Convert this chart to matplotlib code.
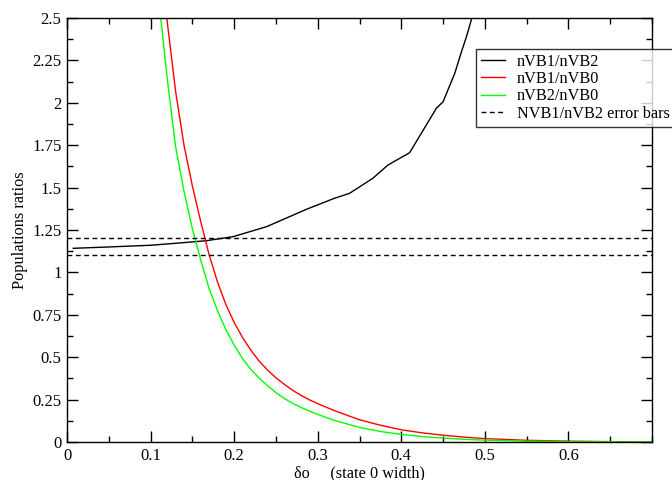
import matplotlib
matplotlib.use("Agg")
import matplotlib.pyplot as plt
from matplotlib.ticker import MultipleLocator, FixedLocator

# nVB1/nVB2
x_12 = [0.0075, 0.05, 0.10, 0.131, 0.167, 0.199, 0.239, 0.2865, 0.320, 0.338,
        0.366, 0.384, 0.410, 0.442, 0.450, 0.464, 0.472, 0.478, 0.484, 0.490]
y_12 = [1.142, 1.150, 1.160, 1.172, 1.187, 1.211, 1.270, 1.372, 1.437, 1.466,
        1.555, 1.633, 1.706, 1.968, 2.006, 2.174, 2.301, 2.390, 2.492, 2.600]

# nVB1/nVB0
x_10 = [0.112, 0.1194, 0.13, 0.14, 0.15, 0.16, 0.17, 0.18, 0.19, 0.20,
        0.21, 0.22, 0.23, 0.24, 0.25, 0.26, 0.27, 0.28, 0.29, 0.30,
        0.32, 0.35, 0.375, 0.40, 0.425, 0.45, 0.475, 0.50, 0.55, 0.60,
        0.65, 0.70]
y_10 = [2.90, 2.50, 2.065, 1.75, 1.51, 1.30, 1.105, 0.945, 0.812, 0.705,
        0.617, 0.541, 0.477, 0.424, 0.379, 0.340, 0.305, 0.275, 0.249, 0.226,
        0.185, 0.131, 0.099, 0.072, 0.054, 0.040, 0.029, 0.020, 0.010, 0.005,
        0.002, 0.001]

# nVB2/nVB0
x_20 = [0.105, 0.1122, 0.12, 0.13, 0.14, 0.15, 0.16, 0.17, 0.18, 0.19,
        0.20, 0.21, 0.22, 0.23, 0.24, 0.25, 0.26, 0.27, 0.28, 0.29,
        0.30, 0.32, 0.35, 0.375, 0.40, 0.425, 0.45, 0.475, 0.50, 0.55,
        0.60, 0.65, 0.70]
y_20 = [2.95, 2.50, 2.14, 1.74, 1.478, 1.258, 1.073, 0.905, 0.775, 0.663,
        0.572, 0.492, 0.428, 0.376, 0.332, 0.291, 0.257, 0.228, 0.204, 0.182,
        0.163, 0.127, 0.086, 0.062, 0.045, 0.032, 0.023, 0.016, 0.011, 0.005,
        0.002, 0.001, 0.0]

# error bars on nVB1/nVB2
err_levels = [1.2, 1.1]

xticks = [0, 0.1, 0.2, 0.3, 0.4, 0.5, 0.6]
yticks = [0, 0.25, 0.5, 0.75, 1, 1.25, 1.5, 1.75, 2, 2.25, 2.5]

plt.rcParams['font.family'] = ['Liberation Serif', 'DejaVu Serif']
plt.rcParams['font.size'] = 11.7

fig = plt.figure(figsize=(6.72, 4.8), dpi=100)
ax = fig.add_axes([67 / 672, 1 - 442 / 480, (652 - 67) / 672, (442 - 18) / 480])

ax.plot(x_12, y_12, color='black', lw=1.0, label='nVB1/nVB2')
ax.plot(x_10, y_10, color='#ff0000', lw=1.0, label='nVB1/nVB0')
ax.plot(x_20, y_20, color='#00ff00', lw=1.0, label='nVB2/nVB0')
for i, lev in enumerate(err_levels):
    ax.axhline(lev, color='black', lw=1.0, ls=(0, (3.5, 2.5)),
               label='NVB1/nVB2 error bars' if i == 0 else None)

ax.set_xlim(0, 0.7)
ax.set_ylim(0, 2.5)
ax.xaxis.set_major_locator(FixedLocator(xticks))
ax.set_xticklabels([f"{t:g}" for t in xticks])
ax.xaxis.set_minor_locator(MultipleLocator(0.05))
ax.yaxis.set_major_locator(FixedLocator(yticks))
ax.set_yticklabels([f"{t:g}" for t in yticks])
ax.yaxis.set_minor_locator(MultipleLocator(0.125))
ax.tick_params(which='both', direction='in', top=True, right=True, width=1.0,
               labelsize=12)
ax.tick_params(which='major', length=8, pad=4)
ax.tick_params(which='minor', length=4.5)
for s in ax.spines.values():
    s.set_linewidth(1.0)

ax.set_xlabel(u"\u03b4o     (state 0 width)", labelpad=1)
ax.set_ylabel("Populations ratios", labelpad=3)

leg = fig.legend(loc='upper left', bbox_to_anchor=(476 / 672, 1 - 49 / 480),
                 frameon=True, fancybox=False, edgecolor='black',
                 handlelength=1.5, handletextpad=0.7, labelspacing=0.08,
                 borderpad=0.3, borderaxespad=0, fontsize=11.7)
leg.get_frame().set_linewidth(1.0)

fig.savefig("out.png", dpi=100)
